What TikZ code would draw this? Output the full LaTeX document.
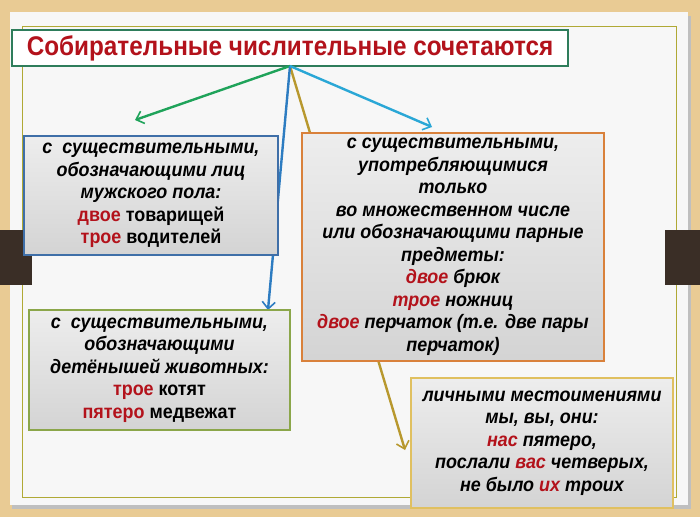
\documentclass[tikz,border=0pt]{standalone}
\usepackage{fontspec}
\setmainfont{Liberation Sans}
\newfontfamily\nar[FakeStretch=0.92]{Liberation Sans}
\newfontfamily\tnar[FakeStretch=0.9]{Liberation Sans}
\usetikzlibrary{arrows.meta,shadows}
\definecolor{wood}{HTML}{E9CB94}
\definecolor{tab}{HTML}{3A2E26}
\definecolor{rd}{HTML}{B3121B}
\definecolor{ttl}{HTML}{2E7D5B}
\definecolor{cblue}{HTML}{3F6FA8}
\definecolor{corange}{HTML}{D9813B}
\definecolor{cgreen}{HTML}{8BA64A}
\definecolor{cyell}{HTML}{E0C060}
\definecolor{agreen}{HTML}{1FA35A}
\definecolor{ablue}{HTML}{2D7CC1}
\definecolor{acyan}{HTML}{2AA7D6}
\definecolor{agold}{HTML}{B8982E}
\newcommand{\rw}[1]{\textcolor{rd}{#1}}
\tikzset{
 box/.style={draw, line width=2.6pt, top color=black!7, bottom color=black!17, align=center, inner sep=0pt, font=\nar\fontsize{19.5}{22.5}\selectfont\bfseries},
 conn/.style={line width=2.4pt, -{Straight Barb[length=7pt,width=13pt,line width=1.6pt]}}
}
\begin{document}
\begin{tikzpicture}[x=1pt,y=-1pt]
\useasboundingbox (0,0) rectangle (700,517);
\fill[wood] (0,0) rectangle (700,517);
\fill[black!25] (12,16) rectangle (691,509);
\fill[white!97!black] (10,12) rectangle (688,505);
\draw[olive!70, line width=0.8pt] (22,26) rectangle (676,497);
\fill[tab] (0,230) rectangle (32,285);
\fill[tab] (665,230) rectangle (700,285);
\node[draw=ttl, line width=2.6pt, fill=white, minimum width=556pt, minimum height=36pt, inner sep=0pt, text=rd, font=\tnar\fontsize{27}{28}\selectfont\bfseries] (title) at (290,48) {Собирательные числительные сочетаются};
\coordinate (o) at (290,66);
\coordinate (ga) at (135,120);
\coordinate (ba) at (268,310);
\coordinate (ca) at (432,127);
\coordinate (ya) at (405,450);
\draw[conn, agold] (o) -- (ya);
\draw[conn, agreen] (o) -- (ga);
\draw[conn, ablue] (o) -- (ba);
\draw[conn, acyan] (o) -- (ca);
\node[box, draw=cblue, minimum width=254pt, minimum height=119pt] (a) at (151,195.5) {\itshape с~ существительными,\\ \itshape обозначающими лиц\\ \itshape мужского пола:\\ \rw{двое} товарищей\\ \rw{трое} водителей};
\node[box, draw=corange, minimum width=302pt, minimum height=228pt] (b) at (453,247) {\itshape с существительными,\\ \itshape употребляющимися\\ \itshape только\\ \itshape во множественном числе\\ \itshape или обозначающими парные\\ \itshape предметы:\\ \itshape \rw{двое} брюк\\ \itshape \rw{трое} ножниц\\ \itshape \rw{двое} перчаток (т.е. две пары\\ \itshape перчаток)};
\node[box, draw=cgreen, minimum width=261pt, minimum height=120pt] (c) at (159.5,370) {\itshape с~ существительными,\\ \itshape обозначающими\\ \itshape детёнышей животных:\\ \rw{трое} котят\\ \rw{пятеро} медвежат};
\node[box, draw=cyell, minimum width=262pt, minimum height=130pt] (d) at (542,443) {\itshape личными местоимениями\\ \itshape мы, вы, они:\\ \itshape \rw{нас} пятеро,\\ \itshape послали \rw{вас} четверых,\\ \itshape не было \rw{их} троих};
\end{tikzpicture}
\end{document}
